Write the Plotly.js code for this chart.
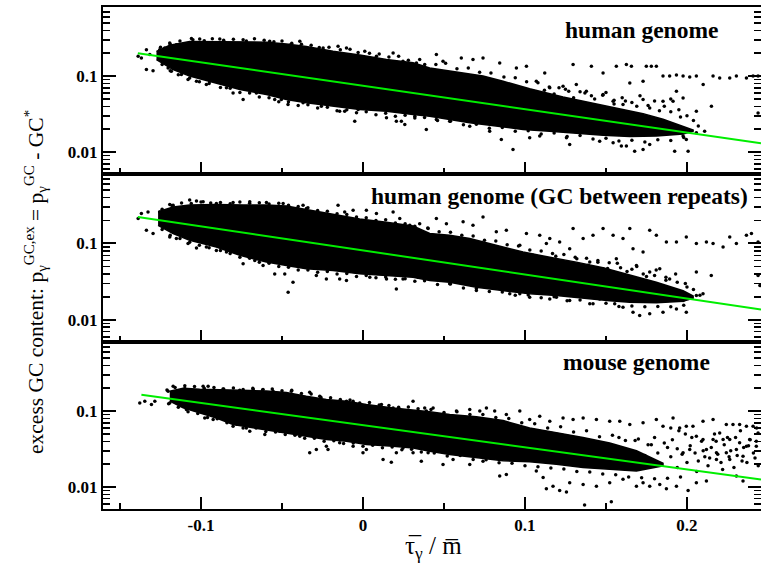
<!DOCTYPE html>
<html>
<head>
<meta charset="utf-8">
<script src="https://cdn.plot.ly/plotly-3.0.1.min.js"></script>
<style>html,body{margin:0;padding:0;background:#fff;}#chart{width:761px;height:571px;}</style>
</head>
<body>
<div id="chart"></div>
<script>
// ---------- axis ticks ----------
const xTickVals = [-0.1, 0, 0.1, 0.2];
const xTickText = ['-0.1', '0', '0.1', '0.2'];
const xMinorVals = [-0.15, -0.05, 0.05, 0.15];
const yTickVals = [0.01, 0.1];
const yTickText = ['0.01', '0.1'];
const yMinorVals = [0.005, 0.006, 0.007, 0.008, 0.009, 0.02, 0.03, 0.04, 0.05, 0.06, 0.07, 0.08, 0.09, 0.2, 0.3, 0.4, 0.5, 0.6, 0.7, 0.8];

const panelLabels = ['human genome', 'human genome (GC between repeats)', 'mouse genome'];

// ---------- panel 1: human genome ----------
// dense core outline
const p1TopX = [-0.1275,-0.1193,-0.107,-0.0905,-0.074,-0.0596,-0.0473,-0.035,-0.0185,-0.002,0.0145,0.0309,0.0412,0.0618,0.0741,0.0865,0.1029,0.1235,0.14,0.1564,0.1729,0.1852,0.1976,0.2038];
const p1TopY = [0.212,0.255,0.285,0.285,0.285,0.28,0.265,0.245,0.212,0.19,0.165,0.15,0.128,0.11,0.10,0.0855,0.068,0.053,0.045,0.038,0.032,0.027,0.022,0.0195];
const p1BotX = [-0.1275,-0.1172,-0.107,-0.0905,-0.076,-0.0596,-0.0473,-0.035,-0.0185,-0.002,0.0145,0.0309,0.0412,0.0535,0.0659,0.0823,0.0988,0.1153,0.1317,0.1482,0.1647,0.1811,0.1976,0.2038];
const p1BotY = [0.165,0.122,0.10,0.081,0.0665,0.0571,0.049,0.0444,0.040,0.0362,0.0344,0.0311,0.0296,0.0268,0.0242,0.0219,0.0198,0.0188,0.0178,0.0166,0.016,0.0163,0.0172,0.0188];
// individual points (outliers and edges)
const p1PtsX = [-0.1388,-0.1368,-0.1337,-0.1316,-0.1337,-0.1296,-0.1255,-0.1224,-0.1203,-0.1183,-0.1121,-0.108,-0.1028,-0.0967,-0.0946,-0.1193,-0.1152,-0.1059,-0.1008,-0.0884,-0.074,-0.0576,-0.0452,-0.039,-0.0349,-0.0308,-0.0246,-0.0154,-0.0102,0.0011,0.0083,0.0186,0.0247,0.033,0.0381,-0.0843,-0.074,-0.0658,-0.0545,-0.0504,-0.0463,-0.037,-0.0257,-0.0144,-0.0113,-0.0051,-0.003,0.0145,0.0206,0.0237,0.0258,0.032,0.0391,-0.0802,
 0.0453,0.0494,0.0607,0.0679,0.0741,0.0844,0.0947,0.1009,0.1122,0.1297,0.141,0.1482,0.1564,0.1626,0.1657,0.1749,0.178,0.1811,0.1647,0.1729,0.1852,0.1893,0.1935,0.1976,0.2017,0.2058,0.21,0.2161,0.2202,0.2264,0.2305,0.2367,0.2408,0.2439,0.1935,0.1976,0.2058,0.2151,0.2439,0.1914,0.1852,0.1729,0.1605,0.1544,0.1482,0.1379,0.1317,0.1235,0.1153,0.107,0.0906,0.0782,
 0.0926,0.0854,0.1029,0.1091,0.1256,0.1276,0.1461,0.1544,0.1595,0.1626,0.1677,0.1729,0.177,0.1924,0.2007,0.1996,0.2058,0.2109,0.1976,0.0453,0.0535,0.0659,0.0782];
const p1PtsY = [0.182,0.173,0.223,0.192,0.122,0.118,0.223,0.235,0.128,0.116,0.105,0.090,0.0855,0.0773,0.0855,0.273,0.259,0.312,0.309,0.309,0.302,0.287,0.254,0.287,0.212,0.223,0.235,0.247,0.235,0.212,0.182,0.202,0.157,0.149,0.142,0.070,0.049,0.060,0.049,0.049,0.0422,0.0444,0.040,0.0344,0.0344,0.0254,0.0362,0.0282,0.0254,0.0254,0.023,0.0296,0.0198,0.060,
 0.192,0.157,0.173,0.165,0.173,0.149,0.128,0.135,0.110,0.142,0.135,0.110,0.135,0.142,0.135,0.135,0.135,0.135,0.081,0.0855,0.10,0.10,0.103,0.10,0.097,0.10,0.0773,0.10,0.0946,0.0946,0.10,0.0946,0.10,0.10,0.0631,0.0516,0.0344,0.040,0.0327,0.0466,0.0466,0.049,0.0422,0.0466,0.0571,0.0631,0.0773,0.0735,0.070,0.0855,0.0735,0.0855,
 0.0108,0.0146,0.0154,0.0162,0.0154,0.0126,0.0139,0.0132,0.012,0.012,0.0102,0.0108,0.0126,0.0102,0.0102,0.0146,0.0179,0.0188,0.0162,0.0268,0.0254,0.0219,0.0188];
const p1EdgeX = [-0.125,-0.119,-0.113,-0.105,-0.098,-0.093,-0.086,-0.08,-0.072,-0.067,-0.061,-0.055,-0.05,-0.044,-0.038,-0.032,-0.027,-0.021,-0.014,-0.008,-0.003,0.004,0.010,0.016,0.022,0.028,0.035,0.045,0.051,0.058,0.065,0.072,0.079,0.087,0.094,0.101,0.108,0.115,0.121,0.127,0.134,0.141,0.148,0.155,0.162,0.169,0.176,0.183,0.19,0.196,
 -0.124,-0.119,-0.114,-0.107,-0.101,-0.095,-0.088,-0.082,-0.076,-0.07,-0.064,-0.058,-0.052,-0.046,-0.04,-0.034,-0.028,-0.022,-0.016,-0.01,-0.004,0.002,0.008,0.014,0.02,0.026,0.032,0.038,0.046,0.054,0.062,0.07,0.078,0.086,0.094,0.102,0.11,0.118,0.126,0.134,0.142,0.15,0.158,0.166,0.174,0.182,0.19,0.198,
 0.105,0.112,0.118,0.125,0.13,0.137,0.143,0.15,0.155,0.16,0.166,0.171,0.177,0.18,0.186,0.19,0.195,0.2,0.204,0.207];
const p1EdgeY = [0.24,0.262,0.29,0.30,0.292,0.31,0.296,0.305,0.29,0.31,0.296,0.284,0.29,0.27,0.262,0.255,0.238,0.24,0.222,0.226,0.205,0.2,0.196,0.178,0.182,0.162,0.165,0.142,0.148,0.125,0.128,0.112,0.11,0.097,0.095,0.084,0.082,0.072,0.07,0.063,0.062,0.055,0.056,0.048,0.047,0.04,0.041,0.035,0.034,0.029,
 0.142,0.118,0.104,0.094,0.084,0.08,0.071,0.069,0.061,0.06,0.053,0.052,0.046,0.046,0.041,0.042,0.038,0.039,0.035,0.036,0.033,0.034,0.031,0.0325,0.0295,0.0305,0.028,0.0285,0.026,0.0255,0.0228,0.0232,0.0206,0.021,0.0187,0.019,0.0172,0.0178,0.016,0.0165,0.0148,0.0152,0.014,0.0143,0.0135,0.0145,0.0142,0.0155,
 0.06,0.065,0.058,0.067,0.052,0.06,0.05,0.061,0.043,0.052,0.045,0.055,0.038,0.047,0.04,0.05,0.036,0.03,0.026,0.022];
const p1FitX = [-0.139, 0.2457];
const p1FitY = [0.200, 0.0130];

// ---------- panel 2: human genome (GC between repeats) ----------
const p2TopX = [-0.1265,-0.1172,-0.107,-0.0905,-0.074,-0.0596,-0.0473,-0.035,-0.0185,-0.002,0.0145,0.0309,0.0412,0.0535,0.0659,0.0823,0.0988,0.1153,0.1317,0.1482,0.1647,0.1811,0.1976,0.2038];
const p2TopY = [0.26,0.30,0.32,0.325,0.32,0.32,0.31,0.28,0.245,0.21,0.19,0.17,0.135,0.128,0.116,0.0946,0.0773,0.066,0.057,0.048,0.039,0.031,0.024,0.0205];
const p2BotX = [-0.1265,-0.1172,-0.107,-0.0905,-0.076,-0.0596,-0.0473,-0.035,-0.0185,-0.002,0.0145,0.0309,0.0412,0.0535,0.07,0.0865,0.1029,0.1194,0.1358,0.1523,0.1647,0.1811,0.1976,0.2038];
const p2BotY = [0.173,0.135,0.110,0.090,0.070,0.0571,0.0516,0.0466,0.0444,0.040,0.0382,0.0362,0.0327,0.0311,0.0268,0.0242,0.0219,0.0208,0.0192,0.0178,0.017,0.0168,0.0175,0.0192];
const p2PtsX = [-0.1388,-0.1368,-0.1327,-0.1337,-0.1296,-0.1255,-0.1214,-0.1193,-0.1152,-0.108,-0.1028,-0.0967,-0.0905,-0.1193,-0.1172,-0.107,-0.1028,-0.0987,-0.0905,-0.0802,-0.0699,-0.0596,-0.0493,-0.037,-0.0349,-0.0154,-0.0113,-0.0061,0.0021,0.0083,0.0186,0.0227,0.0289,0.035,0.0402,-0.0843,-0.074,-0.0668,-0.0617,-0.0545,-0.0483,-0.0462,-0.0432,-0.0288,-0.0226,-0.0144,-0.0102,0.0,0.0042,0.0145,0.0206,0.0247,0.034,0.0381,
 0.0453,0.0515,0.0618,0.0679,0.0741,0.0823,0.0885,0.1009,0.1091,0.1153,0.1214,0.1297,0.1359,0.142,0.1482,0.1544,0.1605,0.1647,0.1667,0.1729,0.177,0.1811,0.1873,0.1935,0.1996,0.2058,0.212,0.2161,0.2223,0.2264,0.2305,0.2367,0.2398,0.2439,0.1564,0.1482,0.14,0.1276,0.1132,0.0968,0.1688,0.177,0.1832,0.1893,0.2058,0.215,0.2439,0.245,
 0.0474,0.0535,0.07,0.0906,0.0968,0.1029,0.1153,0.1194,0.1276,0.14,0.1461,0.1554,0.1605,0.1667,0.1708,0.177,0.1852,0.1935,0.1996,0.2058,0.2099,0.1976];
const p2PtsY = [0.212,0.247,0.259,0.149,0.135,0.259,0.165,0.122,0.116,0.10,0.087,0.090,0.081,0.324,0.318,0.37,0.36,0.352,0.334,0.345,0.352,0.345,0.334,0.318,0.287,0.318,0.259,0.273,0.273,0.247,0.259,0.212,0.173,0.182,0.157,0.0773,0.0543,0.060,0.0516,0.040,0.040,0.023,0.0311,0.0382,0.0344,0.0344,0.0327,0.0422,0.0362,0.0344,0.0254,0.0344,0.0362,0.0382,
 0.212,0.182,0.192,0.173,0.223,0.142,0.149,0.135,0.128,0.116,0.105,0.157,0.116,0.128,0.157,0.128,0.116,0.157,0.0855,0.0773,0.149,0.128,0.105,0.105,0.122,0.10,0.105,0.10,0.090,0.122,0.10,0.128,0.135,0.105,0.0631,0.0466,0.0571,0.0855,0.10,0.0946,0.0516,0.0422,0.0466,0.0344,0.0422,0.0382,0.0382,0.0282,
 0.0344,0.0296,0.0242,0.0219,0.0219,0.0198,0.0188,0.0198,0.0179,0.0162,0.0188,0.0162,0.0146,0.0126,0.0114,0.012,0.0126,0.0139,0.0126,0.0208,0.0219,0.0179];
const p2EdgeX = [-0.124,-0.118,-0.112,-0.106,-0.1,-0.094,-0.088,-0.082,-0.076,-0.07,-0.064,-0.058,-0.052,-0.046,-0.04,-0.034,-0.028,-0.022,-0.016,-0.01,-0.004,0.002,0.008,0.014,0.02,0.026,0.032,0.04,0.047,0.054,0.061,0.068,0.075,0.082,0.089,0.096,0.103,0.11,0.117,0.124,0.131,0.138,0.145,0.152,0.159,0.166,0.173,0.18,0.187,0.194,0.2,
 -0.124,-0.119,-0.113,-0.107,-0.101,-0.095,-0.088,-0.082,-0.076,-0.07,-0.064,-0.058,-0.052,-0.046,-0.04,-0.034,-0.028,-0.022,-0.016,-0.01,-0.004,0.002,0.008,0.014,0.02,0.026,0.032,0.038,0.046,0.054,0.062,0.07,0.078,0.086,0.094,0.102,0.11,0.118,0.126,0.134,0.142,0.15,0.158,0.166,0.174,0.182,0.19,0.198,
 0.105,0.112,0.119,0.126,0.132,0.139,0.145,0.151,0.157,0.163,0.169,0.175,0.181,0.187,0.193,0.199,0.204,0.208];
const p2EdgeY = [0.28,0.315,0.34,0.335,0.35,0.338,0.345,0.332,0.35,0.336,0.342,0.33,0.336,0.318,0.305,0.295,0.27,0.265,0.245,0.24,0.222,0.218,0.2,0.205,0.185,0.182,0.168,0.16,0.142,0.14,0.128,0.125,0.11,0.108,0.096,0.093,0.082,0.08,0.074,0.072,0.066,0.064,0.057,0.056,0.048,0.046,0.04,0.038,0.033,0.031,0.027,
 0.152,0.128,0.116,0.104,0.095,0.088,0.081,0.074,0.066,0.064,0.057,0.055,0.05,0.049,0.045,0.045,0.042,0.043,0.04,0.0405,0.037,0.038,0.0355,0.0365,0.034,0.0345,0.032,0.0325,0.029,0.0295,0.0262,0.0258,0.0235,0.0232,0.021,0.0212,0.0195,0.02,0.0178,0.0182,0.0162,0.0165,0.015,0.0152,0.0148,0.015,0.0148,0.0155,
 0.07,0.06,0.068,0.055,0.063,0.052,0.06,0.047,0.055,0.043,0.05,0.037,0.045,0.036,0.04,0.03,0.025,0.021];
const p2FitX = [-0.139, 0.2457];
const p2FitY = [0.222, 0.0137];

// ---------- panel 3: mouse genome ----------
const p3TopX = [-0.1193,-0.111,-0.1008,-0.0905,-0.0802,-0.0699,-0.0596,-0.0473,-0.035,-0.0226,-0.0102,0.0021,0.0186,0.0309,0.0412,0.0535,0.07,0.0865,0.1029,0.1194,0.1358,0.1523,0.1688,0.1852];
const p3TopY = [0.182,0.200,0.194,0.190,0.186,0.186,0.184,0.176,0.157,0.142,0.135,0.122,0.110,0.104,0.098,0.090,0.084,0.075,0.060,0.052,0.045,0.038,0.030,0.0205];
const p3BotX = [-0.1193,-0.111,-0.1008,-0.0905,-0.0802,-0.0699,-0.0596,-0.0473,-0.035,-0.0226,-0.0102,0.0021,0.0186,0.0309,0.0412,0.0535,0.07,0.0865,0.1029,0.1194,0.1358,0.1523,0.1688,0.1852];
const p3BotY = [0.135,0.110,0.0946,0.081,0.0665,0.062,0.0571,0.0516,0.0466,0.0422,0.040,0.0362,0.0344,0.0327,0.0296,0.0268,0.0242,0.0222,0.0215,0.02,0.018,0.017,0.0162,0.019];
const p3PtsX = [-0.1378,-0.1347,-0.1306,-0.1285,-0.1203,-0.1172,-0.11,-0.0987,-0.0956,-0.0864,-0.0761,-0.0678,-0.0617,-0.0555,-0.0442,-0.0329,-0.0267,-0.0185,-0.0102,-0.0061,0.0042,0.0114,0.0186,0.0309,0.0381,0.0391,
 -0.1193,-0.109,-0.0977,-0.0925,-0.0802,-0.074,-0.0699,-0.0606,-0.0514,-0.039,-0.0329,-0.0288,-0.0226,-0.0216,-0.0144,-0.0061,0.0,0.0021,0.0124,0.0175,0.0206,0.0247,0.0309,0.036,0.0402,
 0.0433,0.0494,0.0577,0.0659,0.0721,0.0762,0.0813,0.0885,0.0968,0.1029,0.1091,0.1153,0.1235,0.1297,0.1359,0.1441,0.1523,0.1585,0.1647,0.1729,0.1811,0.1852,0.1914,0.1955,0.1996,0.2037,0.2099,0.2161,0.2202,0.2243,0.2284,0.2325,0.2367,0.2408,0.2439,0.2058,0.2099,0.2161,0.2223,0.2264,0.2325,0.2387,0.2428,0.212,0.2182,0.2243,0.2305,0.2367,0.2182,0.2264,0.2346,0.2428,0.2017,0.1976,
 0.0494,0.0556,0.0659,0.0741,0.0844,0.0885,0.107,0.1112,0.1132,0.1173,0.1214,0.1256,0.1276,0.1359,0.1441,0.1523,0.1605,0.1688,0.1729,0.177,0.1832,0.1873,0.1935,0.2007,0.2058,0.212,0.2305,0.2346,0.1368,0.1533];
const p3PtsY = [0.128,0.135,0.122,0.135,0.182,0.212,0.216,0.212,0.212,0.196,0.188,0.192,0.192,0.182,0.182,0.177,0.157,0.128,0.135,0.135,0.116,0.122,0.110,0.135,0.110,0.10,
 0.128,0.105,0.081,0.0773,0.0631,0.060,0.0543,0.049,0.0543,0.0466,0.0282,0.0311,0.0344,0.0311,0.0382,0.0344,0.0282,0.0311,0.023,0.0212,0.0282,0.0327,0.0282,0.0219,0.0282,
 0.110,0.090,0.10,0.105,0.10,0.110,0.10,0.090,0.10,0.0773,0.0855,0.0735,0.081,0.0773,0.081,0.0773,0.0735,0.0735,0.0665,0.070,0.0773,0.0631,0.081,0.060,0.0631,0.0631,0.0735,0.0773,0.0516,0.0665,0.0665,0.0665,0.0631,0.0631,0.0516,0.0466,0.0422,0.0422,0.0422,0.0422,0.0382,0.0422,0.040,0.0311,0.0282,0.0282,0.0311,0.0344,0.023,0.023,0.0254,0.0344,0.0311,0.0282,
 0.0198,0.023,0.0198,0.0219,0.0139,0.0146,0.0162,0.0133,0.0095,0.0102,0.009,0.0086,0.0114,0.0108,0.0102,0.0114,0.0126,0.0102,0.0114,0.0102,0.0108,0.0095,0.0102,0.009,0.0114,0.012,0.0139,0.012,0.0058,0.0064];
const p3EdgeX = [-0.121,-0.116,-0.11,-0.104,-0.098,-0.092,-0.086,-0.08,-0.074,-0.068,-0.062,-0.056,-0.05,-0.044,-0.038,-0.032,-0.026,-0.02,-0.014,-0.008,-0.002,0.004,0.01,0.016,0.022,0.028,0.034,0.042,0.05,0.058,0.066,0.074,0.082,0.09,0.098,0.106,0.114,0.122,0.13,0.138,0.146,0.154,0.162,0.17,0.178,0.186,0.194,
 -0.12,-0.114,-0.108,-0.102,-0.096,-0.09,-0.084,-0.078,-0.072,-0.066,-0.06,-0.054,-0.048,-0.042,-0.036,-0.03,-0.024,-0.018,-0.012,-0.006,0.0,0.006,0.012,0.018,0.024,0.03,0.036,0.044,0.052,0.06,0.068,0.076,0.084,0.092,0.1,0.108,0.116,0.124,0.132,0.14,0.148,0.156,0.164,0.172,0.18,0.188,0.196,
 0.202,0.205,0.207,0.209,0.211,0.213,0.215,0.217,0.219,0.221,0.223,0.225,0.227,0.229,0.231,0.233,0.235,0.237,0.239,0.241,0.243,0.244,0.199,0.195,0.19,
 0.158,0.163,0.168,0.172,0.176,0.18,0.184,0.188,0.191,0.194,0.197,0.2,0.203,0.206,0.21,0.214,0.218,0.222,0.226,0.23,0.234,0.238,0.242,0.19,0.182,0.174];
const p3EdgeY = [0.19,0.205,0.198,0.21,0.2,0.205,0.196,0.202,0.193,0.2,0.19,0.196,0.185,0.188,0.17,0.168,0.152,0.15,0.142,0.14,0.128,0.13,0.12,0.118,0.112,0.113,0.107,0.105,0.096,0.098,0.09,0.09,0.082,0.08,0.07,0.068,0.06,0.062,0.053,0.055,0.046,0.048,0.041,0.043,0.036,0.038,0.032,
 0.125,0.112,0.098,0.093,0.082,0.079,0.07,0.067,0.06,0.06,0.054,0.053,0.049,0.048,0.044,0.044,0.04,0.0405,0.0375,0.038,0.0345,0.0355,0.0328,0.0335,0.031,0.0315,0.029,0.028,0.0255,0.026,0.023,0.0228,0.0208,0.0205,0.019,0.0185,0.0178,0.0172,0.016,0.0158,0.0148,0.0145,0.0135,0.0132,0.0128,0.013,0.0135,
 0.035,0.028,0.022,0.04,0.025,0.019,0.033,0.05,0.027,0.021,0.036,0.045,0.03,0.018,0.026,0.055,0.033,0.021,0.042,0.028,0.06,0.019,0.05,0.055,0.06,
 0.045,0.022,0.041,0.019,0.036,0.045,0.02,0.033,0.042,0.018,0.027,0.021,0.045,0.016,0.03,0.024,0.04,0.017,0.025,0.045,0.022,0.035,0.024,0.025,0.028,0.026];
const p3FitX = [-0.1368, 0.2457];
const p3FitY = [0.164, 0.0125];

// ---------- build traces ----------
const panels = [
  {topX:p1TopX, topY:p1TopY, botX:p1BotX, botY:p1BotY, ptsX:p1PtsX.concat(p1EdgeX), ptsY:p1PtsY.concat(p1EdgeY), fitX:p1FitX, fitY:p1FitY},
  {topX:p2TopX, topY:p2TopY, botX:p2BotX, botY:p2BotY, ptsX:p2PtsX.concat(p2EdgeX), ptsY:p2PtsY.concat(p2EdgeY), fitX:p2FitX, fitY:p2FitY},
  {topX:p3TopX, topY:p3TopY, botX:p3BotX, botY:p3BotY, ptsX:p3PtsX.concat(p3EdgeX), ptsY:p3PtsY.concat(p3EdgeY), fitX:p3FitX, fitY:p3FitY}
];
const traces = [];
panels.forEach((p, i) => {
  const xa = i === 0 ? 'x' : 'x' + (i + 1);
  const ya = i === 0 ? 'y' : 'y' + (i + 1);
  traces.push({
    x: p.topX.concat(p.botX.slice().reverse()),
    y: p.topY.concat(p.botY.slice().reverse()),
    xaxis: xa, yaxis: ya, type: 'scatter', mode: 'lines', fill: 'toself',
    fillcolor: '#000', line: {width: 1.5, color: '#000'}, hoverinfo: 'skip', showlegend: false
  });
  traces.push({
    x: p.ptsX, y: p.ptsY, xaxis: xa, yaxis: ya, type: 'scatter', mode: 'markers',
    marker: {size: 3.5, color: '#000'}, showlegend: false
  });
  traces.push({
    x: p.fitX, y: p.fitY, xaxis: xa, yaxis: ya, type: 'scatter', mode: 'lines',
    line: {color: '#00ee00', width: 2}, showlegend: false
  });
});

const serif = 'Liberation Serif, Times New Roman, serif';
const xRange = [-0.1605, 0.2457];
const yRange = [-2.29, -0.09];
const domains = [[0.6673, 1], [0.3327, 0.6673], [0, 0.3327]];

function xAxis(i) {
  return {
    range: xRange, anchor: i === 0 ? 'y' : 'y' + (i + 1),
    tickmode: 'array', tickvals: xTickVals, ticktext: xTickText,
    showticklabels: i === 2, ticks: 'inside', ticklen: 12, tickwidth: 2, tickcolor: '#000',
    minor: {tickmode: 'array', tickvals: xMinorVals, ticks: 'inside', ticklen: 6, tickwidth: 2, tickcolor: '#000', showgrid: false},
    showline: true, linewidth: 2, linecolor: '#000', mirror: true,
    showgrid: false, zeroline: false,
    tickfont: {family: serif, size: 17, weight: 'bold', color: '#000'}
  };
}
function yAxis(i) {
  return {
    type: 'log', range: yRange, domain: domains[i], anchor: i === 0 ? 'x' : 'x' + (i + 1),
    tickmode: 'array', tickvals: yTickVals, ticktext: yTickText,
    ticks: 'inside', ticklen: 13, tickwidth: 2, tickcolor: '#000',
    minor: {tickmode: 'array', tickvals: yMinorVals, ticks: 'inside', ticklen: 7, tickwidth: 1.5, tickcolor: '#000', showgrid: false},
    showline: true, linewidth: 2, linecolor: '#000', mirror: 'ticks',
    showgrid: false, zeroline: false,
    tickfont: {family: serif, size: 17, weight: 'bold', color: '#000'}
  };
}

const labelFont = {family: serif, size: 23.5, weight: 'bold', color: '#000'};
const layout = {
  width: 761, height: 571,
  margin: {l: 103, r: 0, t: 7, b: 62},
  paper_bgcolor: '#fff', plot_bgcolor: '#fff',
  showlegend: false,
  xaxis: xAxis(0), xaxis2: xAxis(1), xaxis3: xAxis(2),
  yaxis: yAxis(0), yaxis2: yAxis(1), yaxis3: yAxis(2),
  annotations: [
    {text: panelLabels[0], xref: 'paper', yref: 'paper', x: 0.819, y: 0.954, xanchor: 'center', yanchor: 'middle', showarrow: false, font: labelFont},
    {text: panelLabels[1], xref: 'paper', yref: 'paper', x: 0.694, y: 0.6235, xanchor: 'center', yanchor: 'middle', showarrow: false, font: labelFont},
    {text: panelLabels[2], xref: 'paper', yref: 'paper', x: 0.811, y: 0.293, xanchor: 'center', yanchor: 'middle', showarrow: false, font: labelFont},
    {text: 'excess GC content: p<sub>γ</sub><sup>GC,ex</sup> = p<sub>γ</sub><sup>GC</sup> - GC<sup>*</sup>', xref: 'paper', yref: 'paper',
     x: -0.102, y: 0.452, xanchor: 'center', yanchor: 'middle', textangle: -90, showarrow: false,
     font: {family: serif, size: 21.5, color: '#000'}},
    {text: 'τ\u0305<sub>γ</sub> / m\u0305', xref: 'paper', yref: 'paper', x: 0.503, y: -0.077, xanchor: 'center', yanchor: 'middle', showarrow: false,
     font: {family: serif, size: 25, color: '#000'}}
  ]
};

Plotly.newPlot('chart', traces, layout, {staticPlot: true, displayModeBar: false});
</script>
</body>
</html>
